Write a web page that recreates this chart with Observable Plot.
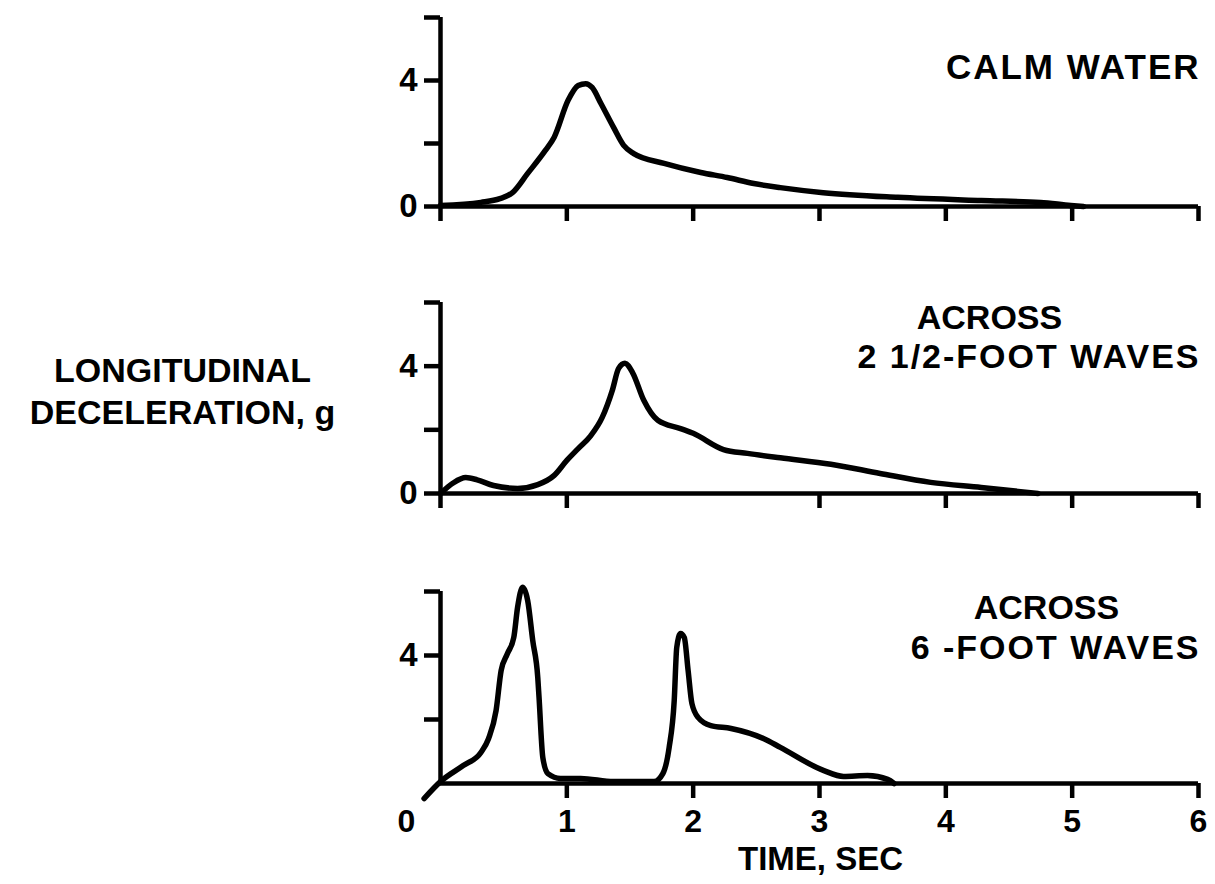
<!DOCTYPE html>
<html><head><meta charset="utf-8">
<script src="https://cdn.jsdelivr.net/npm/d3@7"></script>
<script src="https://cdn.jsdelivr.net/npm/@observablehq/plot@0.6"></script>
<style>
html,body{margin:0;padding:0;background:#fff;overflow:hidden;}
#chart{position:relative;width:1215px;height:884px;}
#chart svg{position:absolute;left:0;}
</style></head><body><div id="chart"></div>
<script>
// ---- data (time in sec, deceleration in g) ----
const calmT = [0,0.32,0.47,0.57,0.69,0.83,0.9,1.01,1.09,1.15,1.2,1.27,1.37,1.45,1.53,1.77,2.06,2.27,2.48,2.69,3.03,3.62,4.28,4.75,4.99,5.09];
const calmG = [0.03,0.13,0.25,0.44,1.05,1.78,2.2,3.37,3.84,3.9,3.78,3.27,2.51,1.94,1.68,1.37,1.08,0.92,0.73,0.6,0.44,0.29,0.19,0.13,0.03,0];

const wave25T = [0,0.1,0.2,0.29,0.42,0.61,0.77,0.9,1.0,1.09,1.19,1.28,1.36,1.41,1.46,1.52,1.61,1.72,1.9,2.0,2.24,2.43,2.69,3.09,3.48,3.88,4.28,4.73];
const wave25G = [0,0.33,0.5,0.43,0.25,0.16,0.28,0.57,1.04,1.41,1.82,2.39,3.24,3.93,4.09,3.8,2.92,2.3,2.04,1.89,1.38,1.26,1.12,0.92,0.63,0.35,0.19,0];

const wave6T = [-0.13,0,0.18,0.32,0.38,0.44,0.48,0.53,0.58,0.61,0.65,0.69,0.73,0.77,0.78,0.81,0.85,0.95,1.11,1.37,1.69,1.76,1.81,1.85,1.87,1.9,1.93,1.96,1.99,2.04,2.14,2.3,2.56,2.69,3.03,3.19,3.38,3.54,3.59];
const wave6G = [-0.47,0.06,0.56,0.97,1.4,2.28,3.53,4.06,4.56,5.5,6.13,5.72,4.47,3.31,2.69,0.81,0.31,0.16,0.16,0.06,0.06,0.31,1.13,2.59,4.25,4.69,4.56,3.53,2.5,2.06,1.81,1.72,1.4,1.13,0.41,0.22,0.25,0.13,0];

const xTickValues = [0,1,2,3,4,5,6];
const yTickValues = [0,2,4,6];
const xTickLabels = ["0","1","2","3","4","5","6"];
const titles = [["CALM WATER"], ["ACROSS","2 1/2-FOOT WAVES"], ["ACROSS","6 -FOOT WAVES"]];
const yAxisTitle = "LONGITUDINAL\nDECELERATION, g";
const xAxisTitle = "TIME, SEC";

const FONT = "'Liberation Sans', Arial, sans-serif";
const series = [
  {t: calmT, g: calmG},
  {t: wave25T, g: wave25G},
  {t: wave6T, g: wave6G}
];
// layout per panel
const layout = [
  {top: 0,   height: 290, mt: 17, mb: 84,  yt: [0,2,4,6], yl: [0,4], xt: [0,1,2,3,4,5,6]},
  {top: 290, height: 290, mt: 12, mb: 87,  yt: [0,2,4,6], yl: [0,4], xt: [0,1,3,4,5,6]},
  {top: 580, height: 304, mt: 11, mb: 101, yt: [2,4,6],   yl: [4],   xt: [1,2,3,4,5,6]}
];
const SPACED = new Set(["CALM WATER", "2 1/2-FOOT WAVES", "6 -FOOT WAVES"]);

const chart = document.getElementById("chart");
layout.forEach((L, i) => {
  const data = series[i].t.map((t, k) => ({t, g: series[i].g[k]}));
  const txt = {fontWeight: "bold", fontFamily: FONT, fill: "black", lineAnchor: "middle"};
  const marks = [
    Plot.ruleY([0], {stroke: "black", strokeWidth: 4.5}),
    Plot.ruleX([0], {stroke: "black", strokeWidth: 4.5}),
    Plot.axisX({ticks: L.xt, tickSize: 15, strokeWidth: 4.5, stroke: "black", fill: "none", label: null}),
    Plot.axisY({ticks: L.yt, tickSize: 16, strokeWidth: 4.5, stroke: "black", fill: "none", label: null}),
    Plot.text(L.yl, {...txt, y: d => d, text: d => String(d), frameAnchor: "left", dx: -23, textAnchor: "end", fontSize: 33}),
    Plot.line(data, {x: "t", y: "g", stroke: "black", strokeWidth: 5.5, curve: "monotone-x", strokeLinejoin: "round", strokeLinecap: "round"})
  ];
  const T = titles[i];
  if (T.length === 1) {
    marks.push(Plot.text([T[0]], {...txt, frameAnchor: "top-right", dx: 2, dy: 50, textAnchor: "end", fontSize: 35}));
  } else {
    const acrossDx = i === 1 ? -209 : -152;
    const dy1 = i === 1 ? 15.5 : 16.5;
    const dy2 = i === 1 ? 54.5 : 56.5;
    marks.push(Plot.text([T[0]], {...txt, frameAnchor: "top-right", dx: acrossDx, dy: dy1, textAnchor: "middle", fontSize: 34}));
    marks.push(Plot.text([T[1]], {...txt, frameAnchor: "top-right", dx: 2, dy: dy2, textAnchor: "end", fontSize: 34}));
  }
  if (i === 1) {
    marks.push(Plot.text([yAxisTitle], {...txt, frameAnchor: "left", dx: -258, dy: -8.5, textAnchor: "middle", lineHeight: 1.22, fontSize: 34}));
  }
  if (i === 2) {
    const lab = xTickValues.map((v, k) => ({v, s: xTickLabels[k]}));
    marks.push(Plot.text(lab.filter(d => d.v > 0), {...txt, x: "v", text: "s", frameAnchor: "bottom", dy: 38, textAnchor: "middle", fontSize: 32}));
    marks.push(Plot.text(lab.filter(d => d.v === 0), {...txt, x: "v", text: "s", frameAnchor: "bottom", dx: -34, dy: 38, textAnchor: "middle", fontSize: 32}));
    marks.push(Plot.text([xAxisTitle], {...txt, frameAnchor: "bottom", dx: 1, dy: 76, textAnchor: "middle", fontSize: 33}));
  }
  const svg = Plot.plot({
    width: 1215,
    height: L.height,
    marginLeft: 440,
    marginRight: 17,
    marginTop: L.mt,
    marginBottom: L.mb,
    x: {domain: [0, 6], label: null},
    y: {domain: [0, 6], label: null},
    style: {background: "white", color: "black", fontFamily: FONT, overflow: "visible"},
    marks
  });
  svg.querySelectorAll("text").forEach(t => {
    if (SPACED.has(t.textContent)) t.style.letterSpacing = "2px";
  });
  svg.style.top = L.top + "px";
  chart.appendChild(svg);
});
</script></body></html>
